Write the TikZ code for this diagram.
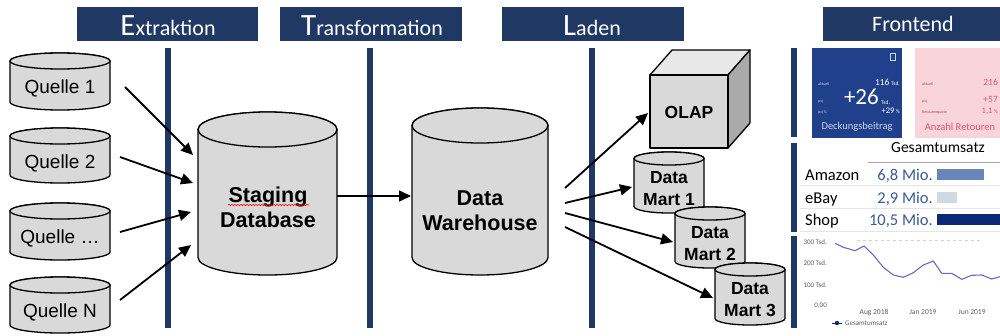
\documentclass[tikz,border=0pt]{standalone}
\usepackage{fontspec}
\setmainfont{Liberation Sans}
\newfontfamily\carl{Carlito}
\usetikzlibrary{arrows.meta,decorations.pathmorphing,calc}
\definecolor{navy}{RGB}{31,56,100}
\definecolor{cylgray}{RGB}{217,217,217}
\definecolor{topgray}{RGB}{232,232,232}
\definecolor{sidegray}{RGB}{170,170,170}
\definecolor{tileblue}{RGB}{33,64,140}
\definecolor{tilepink}{RGB}{249,212,219}
\definecolor{redtxt}{RGB}{226,84,100}
\definecolor{darkred}{RGB}{170,70,80}
\definecolor{valblue}{RGB}{58,90,152}
\definecolor{barmid}{RGB}{106,133,186}
\definecolor{barlight}{RGB}{210,215,228}
\definecolor{bardark}{RGB}{12,40,120}
\definecolor{chartline}{RGB}{105,105,195}
\definecolor{axisgray}{RGB}{95,95,95}
\definecolor{tilelabel}{RGB}{200,212,240}

\newcommand\cylinderat[5]{% x1,x2,top,bottom,ry
  \pgfmathsetmacro\cylrx{(#2-#1)/2}%
  \pgfmathsetmacro\cylcx{(#1+#2)/2}%
  \filldraw[cylstyle] (#1,#3+#5) -- (#1,#4-#5)
     arc[start angle=180,end angle=360,x radius=\cylrx pt,y radius=#5pt]
     -- (#2,#3+#5)
     arc[start angle=0,end angle=180,x radius=\cylrx pt,y radius=#5pt] -- cycle;
  \draw[cylstyle] (\cylcx,#3+#5) ellipse[x radius=\cylrx pt,y radius=#5pt];
}

\tikzset{
  cylstyle/.style={draw=black, fill=cylgray, line width=1.3pt},
  arr/.style={draw=black, line width=1.8pt, -{Triangle[length=12pt,width=11pt]}},
  hdrbox/.style={fill=navy},
  hdrtext/.style={text=white, inner sep=0pt, anchor=base, font=\carl},
  sepbar/.style={fill=navy},
  qtext/.style={inner sep=0pt, font=\fontsize{19}{21}\selectfont},
  bigtext/.style={inner sep=0pt, align=center, font=\bfseries\fontsize{21.5}{25}\selectfont},
  dmtext/.style={inner sep=0pt, align=center, font=\bfseries\fontsize{17.5}{22}\selectfont},
  tiny/.style={inner sep=0pt, font=\carl\fontsize{4}{4}\selectfont},
  tbl/.style={inner sep=0pt, font=\carl\fontsize{16.5}{16.5}\selectfont},
  tblval/.style={inner sep=0pt, anchor=base east, text=valblue, font=\carl\fontsize{16.5}{16.5}\selectfont},
  axlbl/.style={inner sep=0pt, text=axisgray, font=\carl\fontsize{7}{7}\selectfont},
}

\begin{document}
\begin{tikzpicture}[x=1pt,y=-1pt]
\useasboundingbox (0,0) rectangle (1000,335);
\fill[white] (0,0) rectangle (1000,335);

% header boxes
\fill[hdrbox] (77,7) rectangle (258,41);
\fill[hdrbox] (280,7) rectangle (462,41);
\fill[hdrbox] (502,7) rectangle (684,41);
\fill[hdrbox] (823,7) rectangle (1000,41);
\node[hdrtext] (hE) at (168,35) {\fontsize{31}{31}\selectfont E\fontsize{22}{22}\selectfont xtraktion};
\node[hdrtext] (hT) at (372,35) {\fontsize{31}{31}\selectfont T\fontsize{22}{22}\selectfont ransformation};
\node[hdrtext] (hL) at (592,35) {\fontsize{31}{31}\selectfont L\fontsize{22}{22}\selectfont aden};
\node[hdrtext] (hF) at (913,31) {\fontsize{22}{22}\selectfont Frontend};

% separator bars
\fill[sepbar] (165,48) rectangle (171,328);
\fill[sepbar] (367,48) rectangle (373,328);
\fill[sepbar] (589,48) rectangle (595,328);
\fill[sepbar] (791,48) rectangle (797,137);
\fill[sepbar] (791,143) rectangle (797,232);
\fill[sepbar] (791,236) rectangle (797,328);

% sources
\cylinderat{10}{110}{53}{110}{8}
\node[qtext] (q1) at (60,88) {Quelle 1};
\cylinderat{10}{110}{128}{183}{8}
\node[qtext] (q2) at (60,163) {Quelle 2};
\cylinderat{10}{110}{203}{260}{8}
\node[qtext] (q3) at (60,238) {Quelle \dots};
\cylinderat{10}{110}{277}{333}{8}
\node[qtext] (qn) at (60,312) {Quelle N};

% staging
\cylinderat{198}{337}{112}{275}{17.5}
\node[bigtext] (stg) at (268,207) {Staging\\Database};
\draw[red, line width=0.6pt, decorate, decoration={snake, amplitude=0.7pt, segment length=3pt}] (228,205) -- (309,205);

% warehouse
\cylinderat{412}{548}{108}{275}{17.5}
\node[bigtext] (dw) at (480,211) {Data\\Warehouse};

% OLAP cube
\filldraw[draw=black, fill=topgray, line width=1.3pt, line join=round] (650,75) -- (672,50) -- (750,50) -- (728,75) -- cycle;
\filldraw[draw=black, fill=sidegray, line width=1.3pt, line join=round] (728,75) -- (750,50) -- (750,123) -- (728,148) -- cycle;
\filldraw[draw=black, fill=cylgray, line width=1.3pt, line join=round] (650,75) rectangle (728,148);
\node[dmtext] (olap) at (689,112) {OLAP};

% data marts
\cylinderat{634}{704}{152}{213}{6.5}
\node[dmtext] (dm1) at (669,189) {Data\\Mart 1};
\cylinderat{675}{745}{207}{268}{6.5}
\node[dmtext] (dm2) at (710,244) {Data\\Mart 2};
\cylinderat{715}{785}{263}{325}{6.5}
\node[dmtext] (dm3) at (750,300) {Data\\Mart 3};

% arrow end points
\coordinate (q1o) at (125,87);  \coordinate (s1) at (193,155);
\coordinate (q2o) at (120,157); \coordinate (s2) at (193,183);
\coordinate (q3o) at (120,232); \coordinate (s3) at (191,212);
\coordinate (qno) at (120,300); \coordinate (s4) at (191,245);
\coordinate (stgo) at (337,196); \coordinate (dwi) at (411,196);
\coordinate (dwo1) at (565,188); \coordinate (olapi) at (648,113);
\coordinate (dwo2) at (565,203); \coordinate (dm1i) at (632,187);
\coordinate (dwo3) at (565,213); \coordinate (dm2i) at (673,242);
\coordinate (dwo4) at (565,227); \coordinate (dm3i) at (713,298);

\draw[arr] (q1o) -- (s1);
\draw[arr] (q2o) -- (s2);
\draw[arr] (q3o) -- (s3);
\draw[arr] (qno) -- (s4);
\draw[arr] (stgo) -- (dwi);
\draw[arr] (dwo1) -- (olapi);
\draw[arr] (dwo2) -- (dm1i);
\draw[arr] (dwo3) -- (dm2i);
\draw[arr] (dwo4) -- (dm3i);

% ===== Frontend =====
% tile 1
\fill[tileblue] (812,48) rectangle (902,138);
\draw[tilelabel, line width=0.4pt] (890,53) rectangle (895,60);
\node[tiny, text=tilelabel, anchor=base west] (t1a) at (818,85) {aktuell};
\node[tiny, text=tilelabel, anchor=base west] (t1b) at (818,102) {pvj};
\node[tiny, text=tilelabel, anchor=base west] (t1c) at (818,113) {pvj \%};
\node[inner sep=0pt, anchor=base east, text=white, font=\carl] (t1v) at (900,85) {\fontsize{9.5}{9.5}\selectfont 116\,\fontsize{5.5}{5.5}\selectfont Tsd.};
\node[inner sep=0pt, anchor=base east, text=white, font=\carl\fontsize{23}{23}\selectfont] (t1big) at (879,104) {+26};
\node[inner sep=0pt, anchor=base west, text=white, font=\carl\fontsize{5.5}{5.5}\selectfont] (t1bu) at (881,104) {Tsd.};
\node[inner sep=0pt, anchor=base east, text=white, font=\carl] (t1p) at (900,113) {\fontsize{8.5}{8.5}\selectfont +29\,\fontsize{5.5}{5.5}\selectfont\%};
\node[inner sep=0pt, text=tilelabel, font=\carl\fontsize{10.5}{10.5}\selectfont] (t1n) at (857,127) {Deckungsbeitrag};

% tile 2
\fill[tilepink] (915,48) rectangle (1000,138);
\node[tiny, text=darkred, anchor=base west] (t2a) at (922,85) {aktuell};
\node[tiny, text=darkred, anchor=base west] (t2b) at (922,102) {pvj};
\node[tiny, text=darkred, anchor=base west] (t2c) at (922,113) {Retourenquote};
\node[inner sep=0pt, anchor=base east, text=redtxt, font=\carl\fontsize{9.5}{9.5}\selectfont] (t2v) at (998,85) {216};
\node[inner sep=0pt, anchor=base east, text=redtxt, font=\carl\fontsize{9.5}{9.5}\selectfont] (t2d) at (998,102) {+57};
\node[inner sep=0pt, anchor=base east, text=redtxt, font=\carl] (t2p) at (998,113) {\fontsize{8.5}{8.5}\selectfont 1,1\,\fontsize{5.5}{5.5}\selectfont\%};
\node[inner sep=0pt, text=redtxt, font=\carl\fontsize{10.5}{10.5}\selectfont] (t2n) at (960,127) {Anzahl Retouren};

% table
\node[inner sep=0pt, anchor=base, font=\carl\fontsize{15.5}{15.5}\selectfont] (gh) at (938,152) {Gesamtumsatz};
\draw[gray!70, line width=0.6pt] (868,162) -- (1000,162);
\draw[gray!20, line width=0.5pt] (800,185) -- (1000,185);
\draw[gray!20, line width=0.5pt] (800,208) -- (1000,208);
\draw[gray!20, line width=0.5pt] (800,231) -- (1000,231);
\node[tbl, anchor=base west] (ra) at (805,180) {Amazon};
\node[tblval] (va) at (933,180) {6,8 Mio.};
\fill[barmid] (937,169) rectangle (984,180);
\node[tbl, anchor=base west] (re) at (805,203) {eBay};
\node[tblval] (ve) at (933,203) {2,9 Mio.};
\fill[barlight] (937,192) rectangle (957,203);
\node[tbl, anchor=base west] (rs) at (805,225) {Shop};
\node[tblval] (vs) at (933,225) {10,5 Mio.};
\fill[bardark] (937,214) rectangle (1000,225);

% chart
\draw[gray!35, dashed, line width=0.5pt] (857,240) -- (980,240);
\node[axlbl, anchor=east] (y300) at (827,242) {300 Tsd.};
\node[axlbl, anchor=east] (y200) at (827,263) {200 Tsd.};
\node[axlbl, anchor=east] (y100) at (827,285) {100 Tsd.};
\node[axlbl, anchor=east] (y0) at (827,306) {0,00};
\node[axlbl, anchor=base, font=\carl\fontsize{7.5}{7.5}\selectfont] (xa) at (874,314) {Aug 2018};
\node[axlbl, anchor=base, font=\carl\fontsize{7.5}{7.5}\selectfont] (xj) at (923,314) {Jan 2019};
\node[axlbl, anchor=base, font=\carl\fontsize{7.5}{7.5}\selectfont] (xu) at (972,314) {Jun 2019};
\draw[chartline, line width=1.1pt, line join=round] plot coordinates {
 (835,243.3) (843.3,247.3) (855,250.7) (864,246) (873.3,255) (883.3,267.3)
 (893.3,275) (903.3,277.3) (913.3,272.7) (923.3,265) (933.3,261) (941.7,273.3)
 (951.7,273.3) (961.7,279.3) (971.7,275.3) (981.7,275) (991.7,279) (1000,276.7)};
\draw[bardark, line width=0.8pt] (832,323) -- (842,323);
\fill[bardark] (837,323) circle[radius=2.2pt];
\node[axlbl, anchor=base west] (lg) at (845,325.5) {Gesamtumsatz};
\end{tikzpicture}
\end{document}
